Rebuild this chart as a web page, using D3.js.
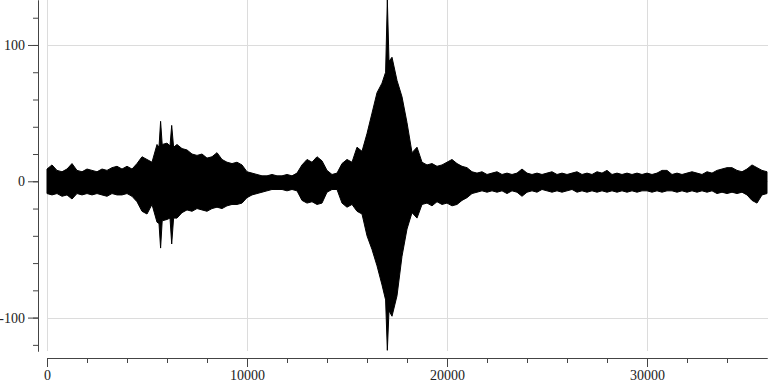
<!DOCTYPE html>
<html>
<head>
<meta charset="utf-8">
<script src="https://cdn.jsdelivr.net/npm/d3@7"></script>
<style>
  body { margin: 0; background: #fff; }
  svg { display: block; font-family: "Liberation Serif", serif; }
</style>
</head>
<body>
<div id="chart"></div>
<script>
// envelope of the waveform (sample index, max, min)
const sampleAt = [
  0, 250, 500, 750, 1000, 1250, 1500, 1750, 2000, 2250, 2500, 2750, 3000, 3250, 3500, 3750,
  4000, 4250, 4500, 4750, 5000, 5250, 5500, 5600, 5680, 5760, 6000, 6150, 6235, 6330, 6500,
  6750, 7000, 7250, 7500, 7750, 8000, 8250, 8500, 8750, 9000, 9250, 9500, 9750, 10000,
  10250, 10500, 10750, 11000, 11250, 11500, 11750, 12000, 12250, 12500, 12750, 13000, 13250,
  13500, 13750, 14000, 14250, 14500, 14750, 15000, 15250, 15500, 15750, 16000, 16250, 16500,
  16750, 16930, 17017, 17100, 17250, 17500, 17750, 18000, 18250, 18500, 18750, 19000, 19250,
  19500, 19750, 20000, 20250, 20500, 20750, 21000, 21250, 21500, 21750, 22000, 22250, 22500,
  22750, 23000, 23250, 23500, 23750, 24000, 24250, 24500, 24750, 25000, 25250, 25500, 25750,
  26000, 26250, 26500, 26750, 27000, 27250, 27500, 27750, 28000, 28250, 28500, 28750, 29000,
  29250, 29500, 29750, 30000, 30250, 30500, 30750, 31000, 31250, 31500, 31750, 32000, 32250,
  32500, 32750, 33000, 33250, 33500, 33750, 34000, 34250, 34500, 34750, 35000, 35250, 35500,
  35750, 36000
];
const upperEnv = [
  9, 12, 8, 7, 9, 13, 8, 7, 9, 8, 7, 9, 8, 10, 11, 9,
  11, 9, 13, 18, 16, 14, 27, 25, 44, 27, 28, 26, 41, 25, 27,
  24, 23, 20, 19, 20, 17, 18, 21, 16, 14, 13, 14, 12, 7,
  6, 5, 4, 4, 5, 4, 4, 5, 4, 6, 12, 16, 14,
  18, 15, 8, 5, 6, 13, 16, 14, 25, 22, 35, 50, 65,
  72, 80, 133, 88, 91, 74, 62, 43, 21, 25, 14, 12, 13,
  11, 12, 14, 16, 13, 11, 10, 7, 6, 7, 5, 6, 7,
  5, 6, 5, 6, 9, 6, 5, 6, 5, 6, 7, 5, 6,
  5, 6, 7, 5, 6, 5, 7, 6, 8, 5, 6, 5, 6,
  5, 6, 5, 6, 5, 6, 8, 8, 5, 6, 5, 6, 7,
  6, 5, 7, 6, 8, 9, 10, 10, 8, 7, 9, 12, 10,
  8, 7
];
const lowerEnv = [
  -9, -10, -9, -11, -10, -13, -9, -10, -9, -10, -9, -10, -11, -9, -10, -10,
  -9, -11, -15, -22, -24, -17, -30, -31, -49, -29, -28, -27, -46, -27, -27,
  -23, -21, -22, -20, -21, -22, -20, -19, -20, -18, -17, -17, -16, -12,
  -10, -9, -8, -7, -6, -6, -6, -7, -6, -7, -14, -16, -15,
  -17, -16, -8, -6, -6, -16, -19, -17, -22, -24, -40, -50, -62,
  -76, -87, -124, -95, -99, -84, -55, -35, -23, -27, -17, -16, -18,
  -15, -17, -16, -18, -17, -14, -12, -9, -8, -7, -8, -7, -8,
  -7, -9, -7, -8, -11, -8, -7, -8, -6, -7, -8, -7, -8,
  -7, -6, -8, -7, -8, -7, -8, -7, -8, -7, -8, -7, -8,
  -7, -8, -7, -7, -8, -7, -8, -7, -7, -8, -7, -8, -7,
  -8, -7, -8, -7, -9, -8, -9, -8, -9, -8, -10, -14, -16,
  -10, -9
];

const yMinorTicks = [-120, -100, -80, -60, -40, -20, 0, 20, 40, 60, 80, 100, 120];
const yLabelTicks = [-100, 0, 100];
const xMinorTicks = [0, 2000, 4000, 6000, 8000, 10000, 12000, 14000, 16000, 18000,
  20000, 22000, 24000, 26000, 28000, 30000, 32000, 34000];
const xLabelTicks = [0, 10000, 20000, 30000];

const width = 768;
const height = 384;

const rows = sampleAt.map((s, i) => ({ s: s, hi: upperEnv[i], lo: lowerEnv[i] }));

const svg = d3.select('#chart')
  .append('svg')
  .attr('width', width)
  .attr('height', height);

const x = d3.scaleLinear().domain([0, 36000]).range([47, 767]);
const y = d3.scaleLinear().domain([-124.5, 133]).range([351, 0]);

// grid
svg.append('g')
  .selectAll('line')
  .data(xLabelTicks)
  .enter()
  .append('line')
  .attr('x1', (d) => x(d) + 0.5)
  .attr('x2', (d) => x(d) + 0.5)
  .attr('y1', 0)
  .attr('y2', 351)
  .attr('stroke', '#dcdcdc');

svg.append('g')
  .selectAll('line')
  .data(yLabelTicks)
  .enter()
  .append('line')
  .attr('x1', 47)
  .attr('x2', width)
  .attr('y1', (d) => Math.round(y(d)) + 0.5)
  .attr('y2', (d) => Math.round(y(d)) + 0.5)
  .attr('stroke', '#dcdcdc');

// waveform
const wave = d3.area()
  .x((d) => x(d.s))
  .y0((d) => y(d.lo))
  .y1((d) => y(d.hi));

svg.append('path')
  .datum(rows)
  .attr('fill', '#000')
  .attr('stroke', '#000')
  .attr('stroke-width', 1)
  .attr('d', wave);

// axes
function styleAxis(g) {
  g.select('.domain').attr('stroke', '#444');
  g.selectAll('.tick line').attr('stroke', '#444');
  g.selectAll('.tick text')
    .attr('fill', '#222')
    .style('font-size', '14px')
    .style('font-family', '"Liberation Serif", serif');
}

const plainNumber = (d) => String(d);

svg.append('g')
  .attr('transform', 'translate(38,0)')
  .call(d3.axisLeft(y).tickValues(yMinorTicks).tickSize(5).tickSizeOuter(0).tickFormat(''))
  .call(styleAxis);

svg.append('g')
  .attr('transform', 'translate(38,0)')
  .call(d3.axisLeft(y).tickValues(yLabelTicks).tickSize(10).tickSizeOuter(0).tickFormat(plainNumber))
  .call(styleAxis);

svg.append('g')
  .attr('transform', 'translate(0,358)')
  .call(d3.axisBottom(x).tickValues(xMinorTicks).tickSize(5).tickSizeOuter(0).tickFormat(''))
  .call(styleAxis);

svg.append('g')
  .attr('transform', 'translate(0,358)')
  .call(d3.axisBottom(x).tickValues(xLabelTicks).tickSize(9).tickSizeOuter(0).tickFormat(plainNumber))
  .call(styleAxis);
</script>
</body>
</html>
